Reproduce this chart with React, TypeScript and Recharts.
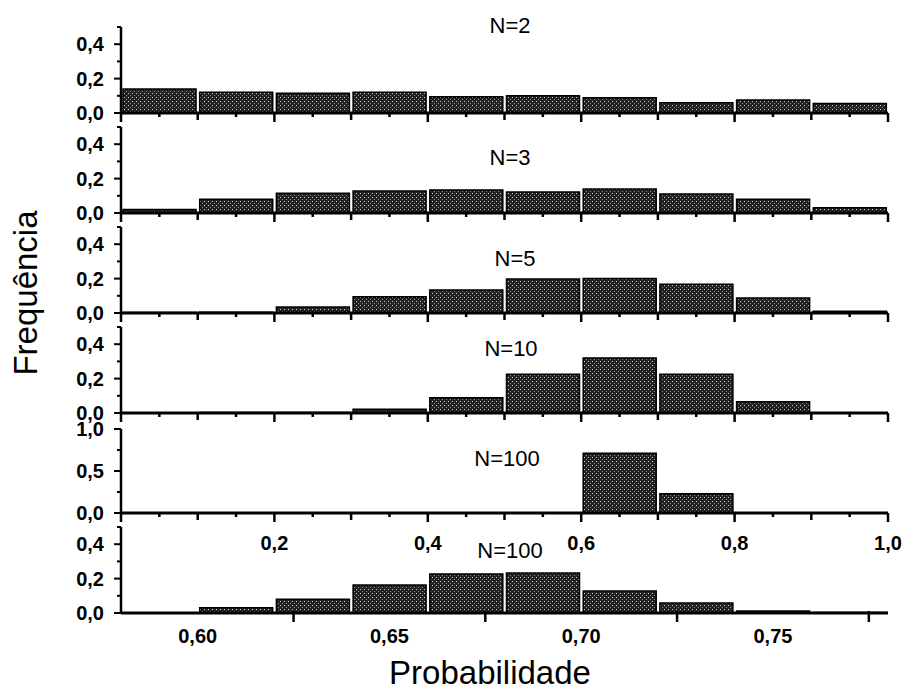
import { BarChart, Bar, XAxis, YAxis } from "recharts";

// bin centres (probability)
const binCenters = [0.05, 0.15, 0.25, 0.35, 0.45, 0.55, 0.65, 0.75, 0.85, 0.95];
const zoomCenters = [0.59, 0.61, 0.63, 0.65, 0.67, 0.69, 0.71, 0.73, 0.75, 0.77];

// frequencies
const freqN2 = [0.14, 0.12, 0.115, 0.12, 0.095, 0.1, 0.088, 0.06, 0.075, 0.055];
const freqN3 = [0.02, 0.08, 0.115, 0.128, 0.134, 0.122, 0.14, 0.11, 0.08, 0.03];
const freqN5 = [0.003, 0.005, 0.035, 0.095, 0.134, 0.198, 0.2, 0.167, 0.087, 0.01];
const freqN10 = [0, 0.003, 0.003, 0.022, 0.088, 0.225, 0.32, 0.225, 0.065, 0];
const freqN100 = [0, 0, 0, 0, 0, 0, 0.71, 0.23, 0, 0];
const freqN100zoom = [0, 0.03, 0.08, 0.163, 0.227, 0.233, 0.128, 0.058, 0.012, 0.003];

const titles = ["N=2", "N=3", "N=5", "N=10", "N=100", "N=100"];

const fullTicks = [0, 0.05, 0.1, 0.15, 0.2, 0.25, 0.3, 0.35, 0.4, 0.45, 0.5, 0.55, 0.6, 0.65, 0.7, 0.75, 0.8, 0.85, 0.9, 0.95, 1.0];
const zoomTicks = [0.6, 0.625, 0.65, 0.675, 0.7, 0.725, 0.75, 0.775];
const zoomLabels = [0.6, 0.65, 0.7, 0.75];
const smallYTicks = [0, 0.1, 0.2, 0.3, 0.4, 0.5];
const smallYLabels = [0, 0.2, 0.4];
const bigYTicks = [0, 0.25, 0.5, 0.75, 1.0];
const bigYLabels = [0, 0.5, 1.0];

const FONT = "'Liberation Sans', Arial, sans-serif";
const comma = (v: number, d: number) => v.toFixed(d).replace(".", ",");

const yTick = (labels: number[]) => (p: any) => {
  const v = p.payload.value;
  const major = labels.includes(v);
  return (
    <g>
      <line x1={p.x} x2={p.x - (major ? 7 : 4)} y1={p.y} y2={p.y} stroke="#000" strokeWidth={2} />
      {major && (
        <text x={p.x - 17} y={p.y + 7} textAnchor="end" fontFamily={FONT} fontWeight="bold" fontSize={20} fill="#000">
          {comma(v, 1)}
        </text>
      )}
    </g>
  );
};

const fullXTick = (showLabels: boolean) => (p: any) => {
  const v = p.payload.value;
  const k = Math.round(v * 100);
  const len = k % 20 === 0 ? 9 : k % 10 === 0 ? 7 : 4;
  return (
    <g>
      <line x1={p.x} x2={p.x} y1={p.y} y2={p.y + len} stroke="#000" strokeWidth={2.5} />
      {showLabels && k % 20 === 0 && k > 0 && (
        <text x={p.x} y={p.y + 37} textAnchor="middle" fontFamily={FONT} fontWeight="bold" fontSize={20} fill="#000">
          {comma(v, 1)}
        </text>
      )}
    </g>
  );
};

const zoomXTick = (p: any) => {
  const v = p.payload.value;
  const isLabel = zoomLabels.some((l) => Math.abs(l - v) < 1e-6);
  if (isLabel) {
    return (
      <text x={p.x} y={p.y + 30} textAnchor="middle" fontFamily={FONT} fontWeight="bold" fontSize={20} fill="#000">
        {comma(v, 2)}
      </text>
    );
  }
  return <line x1={p.x} x2={p.x} y1={p.y - 2} y2={p.y + 9} stroke="#000" strokeWidth={2.5} />;
};

type PanelProps = {
  zeroY: number;
  plotH?: number;
  centers: number[];
  values: number[];
  yMax: number;
  yTicks: number[];
  yLabels: number[];
  xDomain: [number, number];
  xTicks: number[];
  xTick: (p: any) => any;
};

const Panel = ({ zeroY, plotH = 86, centers, values, yMax, yTicks, yLabels, xDomain, xTicks, xTick }: PanelProps) => {
  const data = centers.map((x, i) => ({ x, f: values[i] }));
  const top = 10 + (86 - plotH);
  return (
    <div style={{ position: "absolute", left: 0, top: zeroY - 96 }}>
      <BarChart width={902} height={141} data={data} margin={{ top, right: 14, bottom: 5, left: 0 }}>
        <XAxis
          dataKey="x"
          type="number"
          domain={xDomain}
          ticks={xTicks}
          interval={0}
          height={40}
          tickSize={0}
          tickMargin={0}
          tickLine={false}
          axisLine={{ stroke: "#000", strokeWidth: 3 }}
          tick={xTick}
        />
        <YAxis
          type="number"
          domain={[0, yMax]}
          ticks={yTicks}
          interval={0}
          width={121}
          tickSize={0}
          tickMargin={0}
          tickLine={false}
          axisLine={{ stroke: "#000", strokeWidth: 2.5 }}
          tick={yTick(yLabels)}
        />
        <Bar dataKey="f" barSize={73} fill="url(#stipple)" stroke="#000" strokeWidth={1.5} isAnimationActive={false} />
      </BarChart>
    </div>
  );
};

const titlePos = [
  [510, 33],
  [510, 165],
  [515, 266],
  [511, 356],
  [507, 466],
  [510, 558],
];

export default function App() {
  const full: [number, number] = [0, 1];
  return (
    <div style={{ position: "absolute", left: 0, top: 0, width: 902, height: 692, background: "#fff" }}>
      <svg width={902} height={692} style={{ position: "absolute", left: 0, top: 0, pointerEvents: "none" }}>
        <defs>
          <pattern id="stipple" width={4} height={4} patternUnits="userSpaceOnUse">
            <rect width={4} height={4} fill="#222" />
            <rect x={0} y={0} width={1} height={1} fill="#cfcfcf" />
            <rect x={2} y={2} width={1} height={1} fill="#8c8c8c" />
          </pattern>
        </defs>
        {titles.map((t, i) => (
          <text key={i} x={titlePos[i][0]} y={titlePos[i][1]} textAnchor="middle" fontFamily={FONT} fontSize={22} fill="#000">
            {t}
          </text>
        ))}
        <text x={37} y={293} transform="rotate(-90, 37, 293)" textAnchor="middle" fontFamily={FONT} fontSize={33} fill="#000">
          Frequência
        </text>
        <text x={490} y={684} textAnchor="middle" fontFamily={FONT} fontSize={33} fill="#000">
          Probabilidade
        </text>
      </svg>
      <Panel zeroY={113} centers={binCenters} values={freqN2} yMax={0.5} yTicks={smallYTicks} yLabels={smallYLabels} xDomain={full} xTicks={fullTicks} xTick={fullXTick(false)} />
      <Panel zeroY={213} centers={binCenters} values={freqN3} yMax={0.5} yTicks={smallYTicks} yLabels={smallYLabels} xDomain={full} xTicks={fullTicks} xTick={fullXTick(false)} />
      <Panel zeroY={313} centers={binCenters} values={freqN5} yMax={0.5} yTicks={smallYTicks} yLabels={smallYLabels} xDomain={full} xTicks={fullTicks} xTick={fullXTick(false)} />
      <Panel zeroY={413} centers={binCenters} values={freqN10} yMax={0.5} yTicks={smallYTicks} yLabels={smallYLabels} xDomain={full} xTicks={fullTicks} xTick={fullXTick(false)} />
      <Panel zeroY={513} plotH={84} centers={binCenters} values={freqN100} yMax={1.0} yTicks={bigYTicks} yLabels={bigYLabels} xDomain={full} xTicks={fullTicks} xTick={fullXTick(true)} />
      <Panel zeroY={613} centers={zoomCenters} values={freqN100zoom} yMax={0.5} yTicks={smallYTicks} yLabels={smallYLabels} xDomain={[0.58, 0.78]} xTicks={zoomTicks} xTick={zoomXTick} />
    </div>
  );
}
